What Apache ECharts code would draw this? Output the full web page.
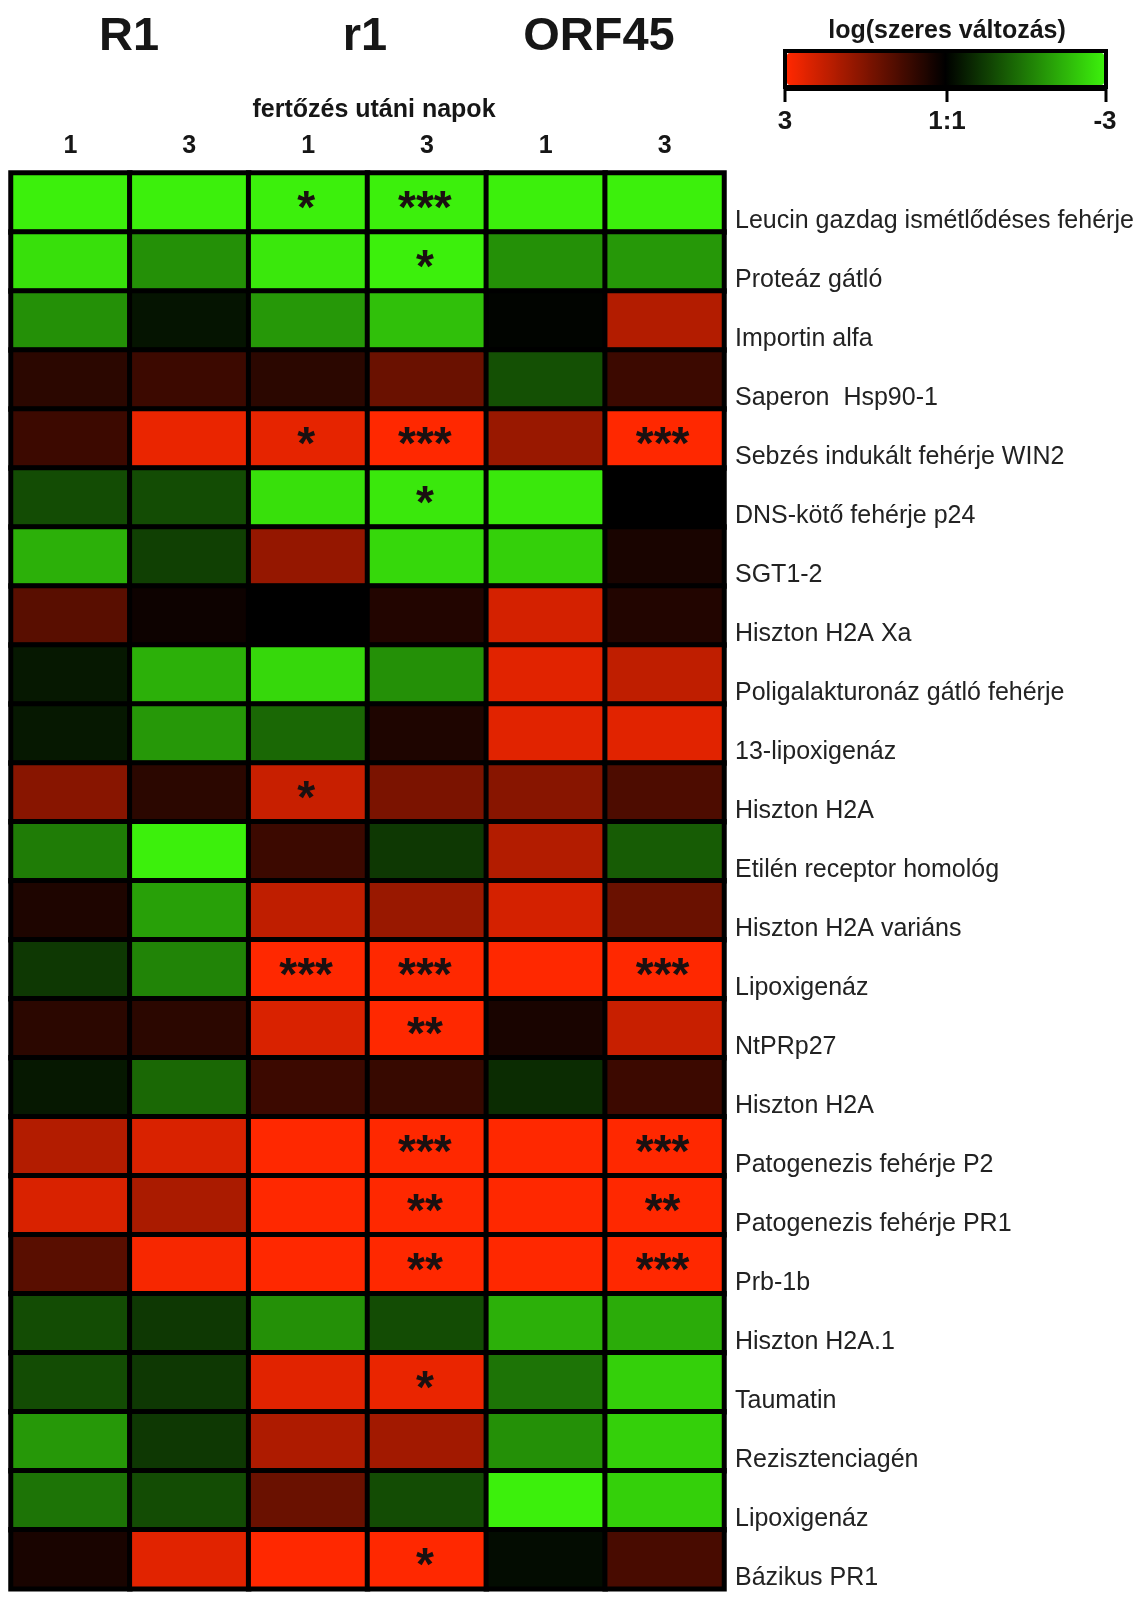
<!DOCTYPE html>
<html>
<head>
<meta charset="utf-8">
<script src="https://cdn.jsdelivr.net/npm/echarts@6/dist/echarts.min.js"></script>
<style>
  html, body { margin: 0; padding: 0; background: #fff; }
  #chart { width: 1142px; height: 1597px; }
</style>
</head>
<body>
<div id="chart"></div>
<script>
var genes = [
    'Leucin gazdag ismétlődéses fehérje', 'Proteáz gátló', 'Importin alfa', 'Saperon  Hsp90-1',
    'Sebzés indukált fehérje WIN2', 'DNS-kötő fehérje p24', 'SGT1-2', 'Hiszton H2A Xa',
    'Poligalakturonáz gátló fehérje', '13-lipoxigenáz', 'Hiszton H2A', 'Etilén receptor homológ',
    'Hiszton H2A variáns', 'Lipoxigenáz', 'NtPRp27', 'Hiszton H2A',
    'Patogenezis fehérje P2', 'Patogenezis fehérje PR1', 'Prb-1b', 'Hiszton H2A.1',
    'Taumatin', 'Rezisztenciagén', 'Lipoxigenáz', 'Bázikus PR1'
];
var days = ['1', '3', '1', '3', '1', '3'];
var groups = ['R1', 'r1', 'ORF45'];
var legendTicks = ['3', '1:1', '-3'];

// log fold change, one array per column (top row first)
var R1_day1 = [-3, -2.8, -1.8, 0.5, 0.7, -0.95, -2.2, 1.05, -0.3, -0.3, 1.6, -1.55, 0.35, -0.7, 0.5, -0.3, 2.1, 2.55, 1.05, -0.95, -0.95, -1.9, -1.45, 0.3];
var R1_day3 = [-3, -1.8, -0.25, 0.7, 2.75, -0.95, -0.8, 0.15, -2.2, -1.9, 0.5, -3, -2.0, -1.65, 0.5, -1.3, 2.55, 2.0, 2.9, -0.7, -0.7, -0.7, -0.95, 2.65];
var r1_day1 = [-3, -2.9, -1.9, 0.5, 2.7, -2.8, 1.75, 0, -2.7, -1.3, 2.35, 0.7, 2.25, 3, 2.55, 0.7, 3, 3, 3, -1.8, 2.65, 2.05, 1.25, 3];
var r1_day3 = [-3, -3, -2.4, 1.25, 3, -2.9, -2.7, 0.4, -1.8, 0.35, 1.45, -0.7, 1.8, 3, 3, 0.65, 3, 3, 3, -0.95, 2.75, 1.9, -0.95, 3];
var ORF45_day1 = [-3, -1.8, -0.05, -1.0, 1.8, -2.9, -2.6, 2.5, 2.65, 2.65, 1.6, 2.1, 2.5, 3, 0.3, -0.55, 3, 3, 3, -2.2, -1.45, -1.8, -3, -0.15];
var ORF45_day3 = [-3, -1.9, 2.1, 0.7, 3, 0, 0.3, 0.4, 2.25, 2.65, 0.9, -1.15, 1.25, 3, 2.35, 0.7, 3, 3, 3, -2.15, -2.6, -2.6, -2.6, 0.85];

// significance marks
var sig_r1_day1 = ['*', '', '', '', '*', '', '', '', '', '', '*', '', '', '***', '', '', '', '', '', '', '', '', '', ''];
var sig_r1_day3 = ['***', '*', '', '', '***', '*', '', '', '', '', '', '', '', '***', '**', '', '***', '**', '**', '', '*', '', '', '*'];
var sig_ORF45_day3 = ['', '', '', '', '***', '', '', '', '', '', '', '', '', '***', '', '', '***', '**', '***', '', '', '', '', ''];

var columns = [R1_day1, R1_day3, r1_day1, r1_day3, ORF45_day1, ORF45_day3];
var noSig = genes.map(function () { return ''; });
var sigCols = [noSig, noSig, sig_r1_day1, sig_r1_day3, noSig, sig_ORF45_day3];

var data = [];
columns.forEach(function (col, x) {
    col.forEach(function (v, y) {
        data.push([x, y, v, sigCols[x][y]]);
    });
});

var font = "'Liberation Sans', Arial, sans-serif";

function txt(text, x, y, size, bold) {
    return {
        type: 'text', x: x, y: y,
        style: {
            text: text, fill: '#161616', fontSize: size,
            fontWeight: bold ? 'bold' : 'normal', fontFamily: font,
            align: 'center', verticalAlign: 'middle'
        }
    };
}

function line(x1, y1, x2, y2, w) {
    return {
        type: 'line', shape: { x1: x1, y1: y1, x2: x2, y2: y2 },
        style: { stroke: '#000', lineWidth: w }
    };
}

var chart = echarts.init(document.getElementById('chart'));

var option = {
    backgroundColor: '#fff',
    animation: false,
    grid: {
        left: 11, top: 173, width: 713, height: 1426,
        show: true, backgroundColor: '#000', borderColor: '#000', borderWidth: 3
    },
    xAxis: {
        type: 'category',
        data: days,
        position: 'top',
        axisLine: { show: false },
        axisTick: { show: false },
        splitLine: { show: false },
        axisLabel: {
            color: '#161616', fontSize: 25, fontWeight: 'bold',
            fontFamily: font, margin: 14
        }
    },
    yAxis: {
        type: 'category',
        data: genes,
        inverse: true,
        position: 'right',
        axisLine: { show: false },
        axisTick: { show: false },
        splitLine: { show: false },
        axisLabel: {
            color: '#222', fontSize: 25, fontFamily: font,
            align: 'left', margin: 11, verticalAlign: 'top', lineHeight: 38
        }
    },
    visualMap: {
        type: 'continuous',
        dimension: 2,
        min: -3,
        max: 3,
        orient: 'horizontal',
        inverse: true,
        left: 787,
        top: 53,
        itemWidth: 32,
        itemHeight: 317,
        padding: 0,
        calculable: false,
        hoverLink: false,
        inRange: { color: ['#3cf00c', '#000000', '#ff2800'] }
    },
    graphic: [
        txt(groups[0], 129, 37, 47, true),
        txt(groups[1], 365, 37, 47, true),
        txt(groups[2], 599, 37, 47, true),
        txt('fertőzés utáni napok', 374, 110, 25, true),
        txt('log(szeres változás)', 947, 31, 25, true),
        txt(legendTicks[0], 785, 122, 26, true),
        txt(legendTicks[1], 947, 122, 26, true),
        txt(legendTicks[2], 1105, 122, 26, true),
        {
            type: 'rect', shape: { x: 785, y: 51, width: 321, height: 36 },
            style: { fill: null, stroke: '#000', lineWidth: 4 }
        },
        line(785, 89, 1106, 89, 4),
        line(785, 87, 785, 102, 3),
        line(947, 87, 947, 102, 3),
        line(1106, 87, 1106, 102, 3)
    ],
    series: [{
        type: 'heatmap',
        data: data,
        itemStyle: { borderColor: '#000', borderWidth: 5 },
        label: {
            show: true,
            formatter: function (p) { return p.value[3] || ''; },
            color: '#1a1010',
            fontSize: 46,
            fontWeight: 'bold',
            fontFamily: font,
            offset: [-2, 8]
        },
        emphasis: { disabled: true }
    }]
};

chart.setOption(option);
</script>
</body>
</html>
